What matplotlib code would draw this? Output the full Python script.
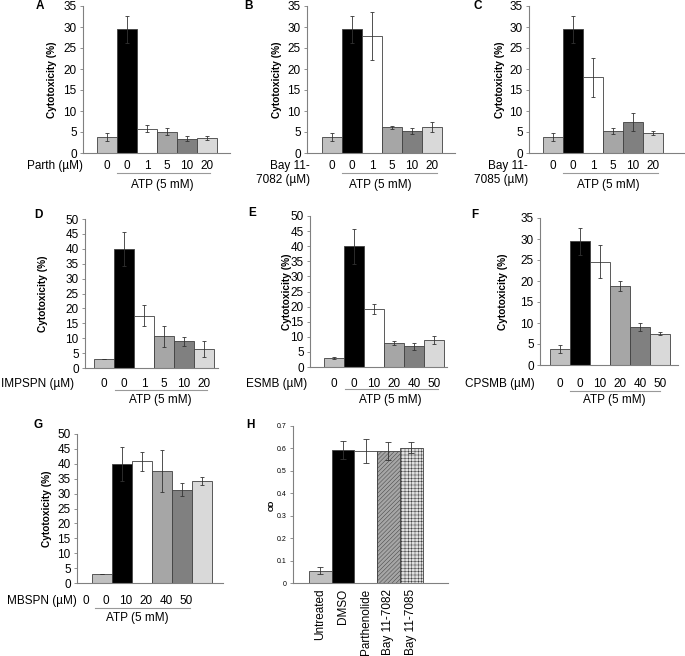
import matplotlib
matplotlib.use("Agg")
import matplotlib.pyplot as plt
import numpy as np

plt.rcParams["font.family"] = ["Liberation Sans", "DejaVu Sans"]
plt.rcParams["hatch.linewidth"] = 0.35

# ---- data -------------------------------------------------------------
a_vals = [3.8, 29.5, 5.8, 5.1, 3.4, 3.6]
a_errs = [1.0, 3.2, 0.9, 0.9, 0.6, 0.5]
b_vals = [3.8, 29.5, 27.8, 6.1, 5.3, 6.2]
b_errs = [1.0, 3.2, 5.7, 0.3, 0.7, 1.2]
c_vals = [3.8, 29.5, 18.0, 5.3, 7.4, 4.8]
c_errs = [1.0, 3.2, 4.6, 0.7, 2.2, 0.4]
d_vals = [3.0, 40.0, 17.6, 10.6, 8.9, 6.4]
d_errs = [0.1, 5.8, 3.5, 3.4, 1.5, 2.6]
e_vals = [3.0, 40.0, 19.3, 8.0, 6.8, 9.0]
e_errs = [0.2, 5.8, 1.7, 0.7, 1.1, 1.4]
f_vals = [3.8, 29.5, 24.6, 18.8, 9.1, 7.5]
f_errs = [1.0, 3.2, 3.9, 1.2, 1.0, 0.4]
g_vals = [3.0, 40.0, 40.8, 37.7, 31.3, 34.2]
g_errs = [0.1, 5.8, 3.3, 7.0, 2.2, 1.4]
h_vals = [0.055, 0.595, 0.590, 0.590, 0.603]
h_errs = [0.017, 0.040, 0.053, 0.040, 0.025]

doses_1 = ["0", "0", "1", "5", "10", "20"]
doses_2 = ["0", "0", "10", "20", "40", "50"]
h_labels = ["Untreated", "DMSO", "Parthenolide", "Bay 11-7082", "Bay 11-7085"]

BAR_COLORS = ["#c0c0c0", "#000000", "#ffffff", "#a6a6a6", "#808080", "#d9d9d9"]
EDGE = "#404040"
SPINE = "#808080"
FS = 8.5

W, H = 685, 656
fig = plt.figure(figsize=(W / 100, H / 100), dpi=100)


def px_axes(x0, x1, top, bottom):
    return fig.add_axes([x0 / W, 1 - bottom / H, (x1 - x0) / W, (bottom - top) / H])


def ftext(x, y, s, **kw):
    fig.text(x / W, 1 - y / H, s, **kw)


def style(ax, ymax, ystep, tick_fs=FS):
    for s in ("top", "right"):
        ax.spines[s].set_visible(False)
    for s in ("left", "bottom"):
        ax.spines[s].set_color(SPINE)
        ax.spines[s].set_linewidth(0.8)
    ax.set_ylim(0, ymax)
    ax.set_yticks(np.arange(0, ymax + 1e-9, ystep))
    ax.tick_params(axis="y", direction="out", length=2.5, width=0.6,
                   color=SPINE, labelsize=tick_fs, pad=2)
    ax.tick_params(axis="x", length=0, labelsize=FS)


def panel(letter, box, bar0, vals, errs, ymax, labels, row_label, row_x,
          tick_y, atp, ylab_x, letter_xy, label_shift=0.0, bw=20.0):
    x0, x1, top, bottom = box
    ax = px_axes(x0, x1, top, bottom)
    n = len(vals)
    pos = np.arange(n)
    ax.bar(pos, vals, width=1.0, color=BAR_COLORS[:n], edgecolor=EDGE,
           linewidth=0.6, zorder=2)
    ax.errorbar(pos, vals, yerr=errs, fmt="none", ecolor="#333333",
                elinewidth=0.6, capsize=1.6, capthick=0.6, zorder=3)
    left = -0.5 - (bar0 - x0) / bw
    ax.set_xlim(left, left + (x1 - x0) / bw)
    style(ax, ymax, 5)
    ax.set_xticks(pos + label_shift)
    ax.set_xticklabels(labels)
    pad_px = tick_y - 5 - bottom
    ax.tick_params(axis="x", pad=pad_px * 0.72)
    ftext(row_x, tick_y - 5, row_label, ha="right", va="top", fontsize=FS,
          linespacing=1.25)
    lx0, lx1, ly, tx, ty = atp
    fig.add_artist(plt.Line2D([lx0 / W, lx1 / W], [1 - ly / H, 1 - ly / H],
                              color="#999999", linewidth=0.8))
    ftext(tx, ty, "ATP (5 mM)", ha="center", va="center", fontsize=FS)
    ftext(ylab_x, (top + bottom) / 2, "Cytotoxicity (%)", rotation=90,
          ha="center", va="center", fontsize=7.3, fontweight="bold")
    ftext(letter_xy[0], letter_xy[1], letter, ha="center", va="center",
          fontsize=8.5, fontweight="bold")
    return ax


# ---- row 1 ------------------------------------------------------------
panel("A", (83, 230, 6, 153), 97, a_vals, a_errs, 35, doses_1,
      "Parth (\u00b5M)", 83, 165, (117, 210, 173, 162, 185), 52, (40, 6))
panel("B", (307, 455, 6, 153), 322, b_vals, b_errs, 35, doses_1,
      "Bay 11-\n7082 (\u00b5M)", 310, 165, (342, 437, 173, 380, 185), 277, (248, 6))
panel("C", (529, 684, 6, 153), 543, c_vals, c_errs, 35, doses_1,
      "Bay 11-\n7085 (\u00b5M)", 528, 165, (563, 658, 173, 608, 185), 500, (478, 6))

# ---- row 2 ------------------------------------------------------------
panel("D", (85, 218, 219, 368), 94, d_vals, d_errs, 50, doses_1,
      "IMPSPN (\u00b5M)", 74, 383, (115, 207, 390, 160, 400), 43, (38, 215))
panel("E", (310, 447, 216, 367), 324, e_vals, e_errs, 50, doses_2,
      "ESMB (\u00b5M)", 307, 383, (345, 438, 389, 390, 400), 287, (252, 213))
panel("F", (540, 678, 218, 365), 550, f_vals, f_errs, 35, doses_2,
      "CPSMB (\u00b5M)", 535, 383, (570, 660, 391, 614, 400), 503, (475, 215))

# ---- row 3 ------------------------------------------------------------
panel("G", (77, 223, 434, 583), 92, g_vals, g_errs, 50, doses_2,
      "MBSPN (\u00b5M)", 77, 600, (95, 190, 608, 137, 618), 47, (38, 425),
      label_shift=-0.8)

# panel H: OD
axh = px_axes(293, 448, 426, 583)
hpos = np.arange(len(h_vals))
h_colors = ["#c0c0c0", "#000000", "#ffffff", "#a6a6a6", "#e0e0e0"]
h_hatch = [None, None, None, "////////", "+++++"]
bw_h = 22.7
for i in range(len(h_vals)):
    axh.bar(hpos[i], h_vals[i], width=1.0, color=h_colors[i],
            edgecolor=EDGE, linewidth=0.6, hatch=h_hatch[i], zorder=2)
axh.errorbar(hpos, h_vals, yerr=h_errs, fmt="none", ecolor="#333333",
             elinewidth=0.6, capsize=2.0, capthick=0.6, zorder=3)
lh = -0.5 - (309 - 293) / bw_h
axh.set_xlim(lh, lh + (448 - 293) / bw_h)
style(axh, 0.7, 0.1, tick_fs=5)
axh.set_yticks(np.arange(0, 0.71, 0.1))
axh.set_yticklabels(["0"] + [f"{v:.1f}" for v in np.arange(0.1, 0.71, 0.1)])
axh.set_xticks(hpos)
axh.set_xticklabels(h_labels, rotation=90, fontsize=8.5)
axh.tick_params(axis="x", pad=4)
ftext(272, 505, "OD", rotation=90, ha="center", va="center",
      fontsize=5.5, fontweight="bold")
ftext(250, 425, "H", ha="center", va="center", fontsize=8.5, fontweight="bold")

fig.savefig("out.png", dpi=100)
